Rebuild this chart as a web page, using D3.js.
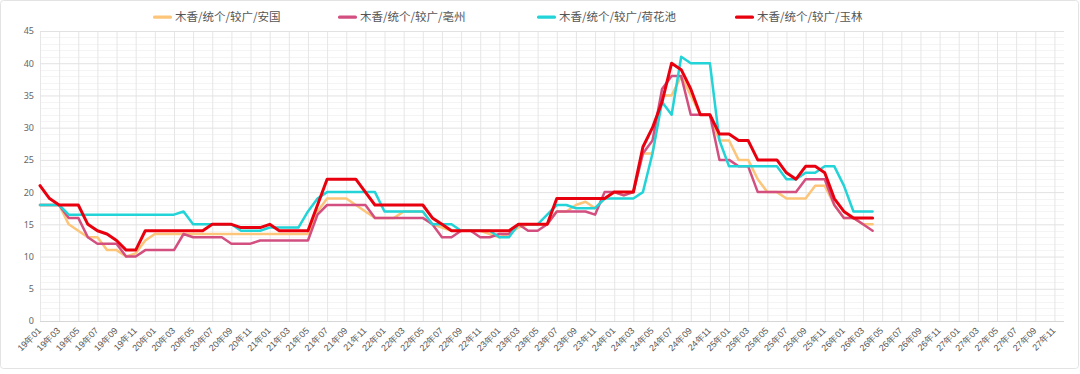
<!DOCTYPE html>
<html>
<head>
<meta charset="utf-8">
<script src="https://cdn.jsdelivr.net/npm/d3@7/dist/d3.min.js"></script>
<style>
  html, body { margin: 0; padding: 0; background: #fff; }
  svg { display: block; font-family: "Noto Sans CJK SC", "Noto Sans", sans-serif; }
</style>
</head>
<body>
<svg id="chart" width="1080" height="374"></svg>
<script>
// ---- data ----
const years = ["19","20","21","22","23","24","25","26","27"];
const months = ["01","02","03","04","05","06","07","08","09","10","11","12"];
const categories = [];
years.forEach(yy => months.forEach(m => categories.push(yy + "年" + m)));

const seriesNames = ["木香/统个/较广/安国", "木香/统个/较广/亳州", "木香/统个/较广/荷花池", "木香/统个/较广/玉林"];

const anguo = [18,18,18,15,14,13,13,11,11,10,
  10.5,12.5,13.5,13.5,13.5,13.5,13.5,13.5,13.5,13.5,
  13.5,13.5,13.5,13.5,13.5,13.5,13.5,13.5,13.5,17,
  19,19,19,18,17,16,16,16,17,17,
  17,15,14.5,14,14,14,14,13.5,13,13.5,
  14.5,15,15,15,17,17,18,18.5,17.5,19,
  20,19.5,20,26,26,35,35,38,35,32,
  32,28,28,25,25,22,20,20,19,19,
  19,21,21,18,16,16,15,15];

const bozhou = [18,18,18,16,16,13,12,12,12,10,
  10,11,11,11,11,13.5,13,13,13,13,
  12,12,12,12.5,12.5,12.5,12.5,12.5,12.5,16.5,
  18,18,18,18,18,16,16,16,16,16,
  16,15,13,13,14,14,13,13,13.5,13.5,
  15,14,14,15,17,17,17,17,16.5,20,
  20,19.5,20,26,28,36,38,38,32,32,
  32,25,25,24,24,20,20,20,20,20,
  22,22,22,18,16,16,15,14];

const hehuachi = [18,18,18,16.5,16.5,16.5,16.5,16.5,16.5,16.5,
  16.5,16.5,16.5,16.5,16.5,17,15,15,15,15,
  15,14,14,14,14.5,14.5,14.5,14.5,17,19,
  20,20,20,20,20,20,17,17,17,17,
  17,15,15,15,14,14,14,14,13,13,
  15,15,15,16.5,18,18,17.5,17.5,17.5,19,
  19,19,19,20,26,34,32,41,40,40,
  40,28,24,24,24,24,24,24,22,22,
  23,23,24,24,21,17,17,17];

const yulin = [21,19,18,18,18,15,14,13.5,12.5,11,
  11,14,14,14,14,14,14,14,15,15,
  15,14.5,14.5,14.5,15,14,14,14,14,18,
  22,22,22,22,20,18,18,18,18,18,
  18,16,15,14,14,14,14,14,14,14,
  15,15,15,15,19,19,19,19,19,19,
  20,20,20,27,30,34,40,39,36,32,
  32,29,29,28,28,25,25,25,23,22,
  24,24,23,19,17,16,16,16];

const yTicks = [0,5,10,15,20,25,30,35,40,45];
const xTickLabels = categories.filter((d, i) => i % 2 === 0);

// ---- styles ----
const colors = ["#fcc57a", "#d24f80", "#22d3d8", "#e8000e"];
const widths = [2.5, 2.5, 2.5, 3];

(function draw() {
  const svg = d3.select("#chart");
  const W = 1080, H = 374;
  const pL = 40, pR = 1064, pT = 31, pB = 321;

  svg.append("rect").attr("x", 0.5).attr("y", 0.5).attr("width", W - 2).attr("height", H - 6)
    .attr("rx", 3).attr("fill", "#fff").attr("stroke", "#e3e3e3");

  const x = d3.scalePoint().domain(categories).range([pL, pR]);
  const y = d3.scaleLinear().domain([0, 45]).range([pB, pT]);

  // minor horizontal grid
  const minor = d3.range(0, 46).filter(v => v % 5 !== 0);
  svg.append("g").selectAll("line").data(minor).join("line")
    .attr("x1", pL).attr("x2", pR)
    .attr("y1", d => Math.round(y(d)) + 0.5).attr("y2", d => Math.round(y(d)) + 0.5)
    .attr("stroke", "#f4f4f4");

  // vertical grid
  const gx = svg.append("g").attr("transform", `translate(0,${pB})`)
    .call(d3.axisBottom(x).tickValues(xTickLabels).tickSize(-(pB - pT)).tickFormat(""));
  gx.select(".domain").remove();
  gx.selectAll("line").attr("stroke", "#e6e6e6");

  // major horizontal grid
  const gy = svg.append("g").attr("transform", `translate(${pL},0)`)
    .call(d3.axisLeft(y).tickValues(yTicks).tickSize(-(pR - pL)).tickFormat(""));
  gy.select(".domain").remove();
  gy.selectAll("line").attr("stroke", "#e2e2e2");

  // y labels
  const yl = svg.append("g").attr("transform", `translate(${pL},0)`)
    .call(d3.axisLeft(y).tickValues(yTicks).tickSize(0).tickPadding(6));
  yl.select(".domain").remove();
  yl.selectAll("text").attr("fill", "#666").style("font-size", "9px")
    .style("font-family", "'Noto Sans', sans-serif");

  // x axis line
  svg.append("line").attr("x1", pL).attr("x2", pR).attr("y1", pB + 0.5).attr("y2", pB + 0.5)
    .attr("stroke", "#d6d6d6");

  // x labels
  const xl = svg.append("g").attr("transform", `translate(0,${pB})`)
    .call(d3.axisBottom(x).tickValues(xTickLabels).tickSize(0));
  xl.select(".domain").remove();
  xl.selectAll("text")
    .attr("x", 0).attr("y", 0).attr("dy", "0.35em")
    .attr("text-anchor", "end")
    .attr("transform", "translate(-1,8) rotate(-45)")
    .attr("fill", "#555").style("font-size", "9px");

  // lines
  const series = [anguo, bozhou, hehuachi, yulin];
  const line = d3.line().x((d, i) => x(categories[i])).y(d => y(d));
  series.forEach((s, k) => {
    svg.append("path").datum(s).attr("d", line)
      .attr("fill", "none").attr("stroke", colors[k]).attr("stroke-width", widths[k])
      .attr("stroke-linejoin", "round").attr("stroke-linecap", "round");
  });

  // legend (layout offsets of the legend items)
  const legendX = [153, 338, 537, 735];
  const lg = svg.append("g");
  seriesNames.forEach((name, k) => {
    const g = lg.append("g").attr("transform", `translate(${legendX[k]},17)`);
    g.append("rect").attr("x", 0).attr("y", -1.5).attr("width", 19).attr("height", 3.2).attr("rx", 1.5)
      .attr("fill", colors[k]);
    g.append("text").attr("x", 22).attr("y", 0).attr("dy", "0.36em")
      .attr("fill", "#555").style("font-size", "11.5px").text(name);
  });
})();
</script>
</body>
</html>
